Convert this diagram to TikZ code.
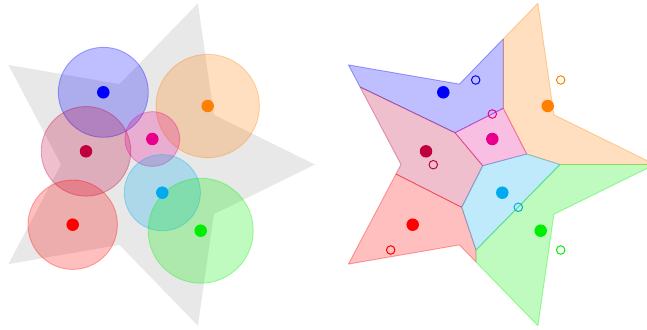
\documentclass[tikz,border=0pt]{standalone}
\definecolor{cblue}{HTML}{0000FF}
\definecolor{corange}{HTML}{FF8000}
\definecolor{cmag}{HTML}{E8008C}
\definecolor{ccrim}{HTML}{C0003C}
\definecolor{ccyan}{HTML}{00AAEE}
\definecolor{cgreen}{HTML}{00EE00}
\definecolor{cred}{HTML}{FF0000}
\definecolor{starg}{HTML}{E8E8E8}
\tikzset{
  dot/.style={circle,fill=#1,inner sep=0pt,minimum size=12.5pt},
  hollow/.style={circle,draw=#1,line width=1pt,inner sep=0pt,minimum size=8.5pt},
  disc/.style={fill=#1,fill opacity=0.25,draw=#1,draw opacity=0.32,line width=0.9pt},
  cell/.style={fill=#1,fill opacity=0.25,draw=#1,draw opacity=0.35,line width=0.9pt,line join=round},
}
\begin{document}
\begin{tikzpicture}[x=1pt,y=-1pt]
\useasboundingbox (0,0) rectangle (647,329);
\clip (0,0) rectangle (647,329);
% ---------- left panel ----------
\fill[starg] (315,164.5) -- (213.9,114.8) -- (197.9,3.3) -- (119.4,84.1) -- (8.4,64.9) -- (61,164.5) -- (8.4,264.1) -- (119.4,244.9) -- (197.9,325.7) -- (213.9,214.2) -- cycle;
\draw[disc=cblue] (103.3,92.3) circle[radius=45];
\draw[disc=corange] (207.7,106) circle[radius=51.7];
\draw[disc=ccrim] (86,151.3) circle[radius=44.8];
\draw[disc=cmag] (152.3,139) circle[radius=27.4];
\draw[disc=ccyan] (162.3,192.7) circle[radius=38.1];
\draw[disc=cgreen] (200.7,230.7) circle[radius=52.5];
\draw[disc=cred] (72.7,224.7) circle[radius=44.7];
\node[dot=cblue] (lb) at (103.3,92.3) {};
\node[dot=corange] (lo) at (207.7,106) {};
\node[dot=ccrim] (lc) at (86,151.3) {};
\node[dot=cmag] (lm) at (152.3,139) {};
\node[dot=ccyan] (ly) at (162.3,192.7) {};
\node[dot=cgreen] (lg) at (200.7,230.7) {};
\node[dot=cred] (lr) at (72.7,224.7) {};
% ---------- right panel ----------
\coordinate (A) at (503.3,38.9);
\coordinate (B) at (503.3,108.3);
\coordinate (C) at (455,132.7);
\coordinate (D) at (360,86.9);
\coordinate (E) at (526.7,154);
\coordinate (F) at (482.7,165.7);
\coordinate (G) at (560,164.5);
\coordinate (H) at (461.7,207.3);
\coordinate (I) at (396,174);
\coordinate (J) at (476,250);
\coordinate (K) at (476,262);
\coordinate (T1) at (655,164.5);
\coordinate (N1) at (553.9,114.8);
\coordinate (T2) at (537.9,3.3);
\coordinate (N2) at (459.4,84.1);
\coordinate (T3) at (348.4,64.9);
\coordinate (N3) at (401,164.5);
\coordinate (T4) at (348.4,264.1);
\coordinate (N4) at (459.4,244.9);
\coordinate (T5) at (537.9,325.7);
\coordinate (N5) at (553.9,214.2);
\draw[cell=cblue] (T3) -- (N2) -- (A) -- (B) -- (C) -- (D) -- cycle;
\draw[cell=corange] (A) -- (T2) -- (N1) -- (T1) -- (G) -- (E) -- (B) -- cycle;
\draw[cell=cmag] (B) -- (E) -- (F) -- (C) -- cycle;
\draw[cell=ccrim] (D) -- (C) -- (F) -- (H) -- (I) -- (N3) -- cycle;
\draw[cell=cred] (I) -- (H) -- (J) -- (K) -- (N4) -- (T4) -- cycle;
\draw[cell=ccyan] (F) -- (E) -- (G) -- (J) -- (H) -- cycle;
\draw[cell=cgreen] (G) -- (T1) -- (N5) -- (T5) -- (K) -- (J) -- cycle;
\node[dot=cblue] (rb) at (443.3,92.3) {};
\node[dot=corange] (ro) at (547.7,106) {};
\node[dot=ccrim] (rc) at (426,151.3) {};
\node[dot=cmag] (rm) at (492.3,139) {};
\node[dot=ccyan] (ry) at (502.3,192.7) {};
\node[dot=cgreen] (rg) at (540.7,230.7) {};
\node[dot=cred] (rr) at (412.7,224.7) {};
\node[hollow=cblue] (hb) at (475.7,80) {};
\node[hollow=corange] (ho) at (560.7,80) {};
\node[hollow=cmag] (hm) at (492.3,114) {};
\node[hollow=ccrim] (hc) at (433.3,164.7) {};
\node[hollow=ccyan] (hy) at (518.3,207.3) {};
\node[hollow=cred] (hr) at (390.7,250) {};
\node[hollow=cgreen] (hg) at (560.7,250) {};
\end{tikzpicture}
\end{document}
